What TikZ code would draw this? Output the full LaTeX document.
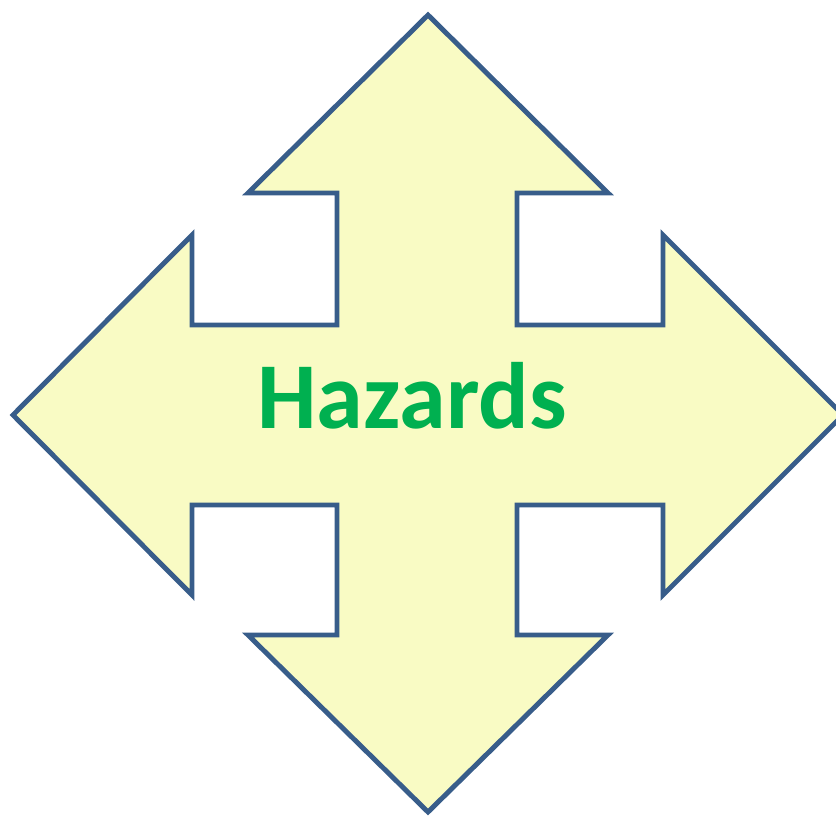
\documentclass[tikz,border=0pt]{standalone}
\usepackage{fontspec}
\setmainfont{Carlito}
\definecolor{arrowline}{HTML}{385D8A}
\definecolor{arrowfill}{HTML}{F9FBC4}
\definecolor{hazardgreen}{HTML}{00B050}
\begin{document}
\begin{tikzpicture}[x=0.03cm, y=-0.03cm]
    \clip (0,0) rectangle (836,816);

    % vierfach-Pfeil
    \draw[line width=4.2pt, arrowline, fill=arrowfill, line join=miter]
        (428,15) -- (608,193) -- (517,193) -- (517,325) -- (663,325)
        -- (663,235) -- (843,415) -- (663,595) -- (663,505) -- (517,505)
        -- (517,635) -- (608,635) -- (428,812) -- (248,635) -- (337,635)
        -- (337,505) -- (192,505) -- (192,595) -- (13,415) -- (192,235)
        -- (192,325) -- (337,325) -- (337,193) -- (248,193) -- cycle;

    % Beschriftung
    \node[anchor=base, inner sep=0pt, text=hazardgreen,
          font=\fontsize{80.5}{96}\selectfont\bfseries] (label) at (412,428) {Hazards};
\end{tikzpicture}
\end{document}
